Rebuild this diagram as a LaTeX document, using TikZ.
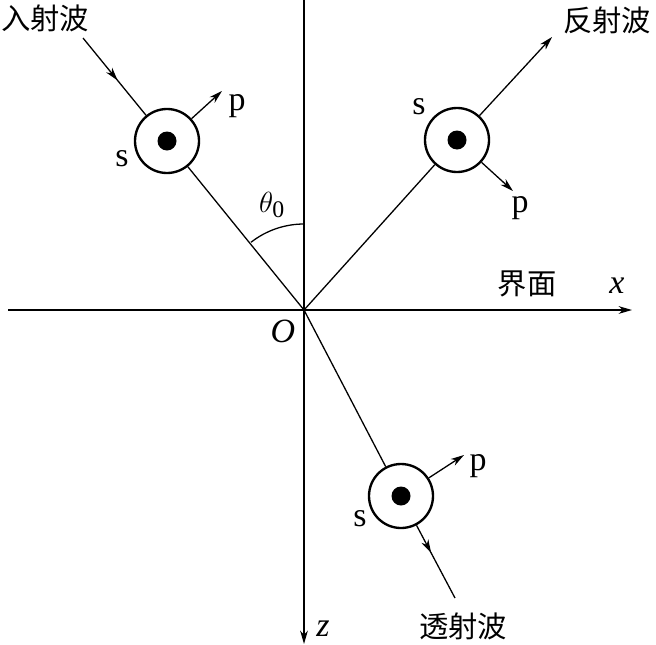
\documentclass[tikz,border=0pt]{standalone}
\usepackage{fontspec}
\setmainfont{Liberation Serif}
\newfontfamily\cjk{Noto Sans CJK SC}
\usetikzlibrary{arrows.meta,decorations.markings}

\tikzset{
  ax/.style={line width=1.1pt},
  tip/.style={-{Stealth[length=0.4cm,width=0.23cm,inset=0.12cm]}},
  wave/.style={circle,draw,line width=2pt,minimum size=1.92cm,inner sep=0pt,fill=white},
  midtip/.style={decoration={markings,mark=at position #1 with {\arrow{Stealth[length=0.4cm,width=0.23cm,inset=0.12cm]}}},postaction={decorate}},
  lbl/.style={font=\fontsize{25}{30}\selectfont,inner sep=0pt},
  sym/.style={font=\fontsize{29}{34}\selectfont,inner sep=0pt}
}

\begin{document}
\begin{tikzpicture}[x=0.03cm,y=-0.03cm]
  \useasboundingbox (0,0) rectangle (656,644);

  % axes
  \coordinate (O) at (304,310);
  \coordinate (xl) at (8,310);
  \coordinate (xr) at (632,310);
  \coordinate (zt) at (304,0);
  \coordinate (zb) at (304,644);
  \draw[ax,tip] (xl) -- (xr);
  \draw[ax,tip] (zt) -- (zb);

  % angle
  \draw[ax] (304,224) arc[start angle=-90,end angle=-128,radius=86];

  % wave nodes
  \node[wave] (inc) at (167,141) {};
  \node[wave] (ref) at (457,140) {};
  \node[wave] (tra) at (401,496) {};
  \fill (inc) circle (9.5);
  \fill (ref) circle (9.5);
  \fill (tra) circle (9.5);

  % rays
  \coordinate (incs) at (83,38);
  \coordinate (refe) at (552,37);
  \coordinate (trae) at (455,598);
  \draw[ax,midtip=0.55] (incs) -- (inc);
  \draw[ax] (inc) -- (O);
  \draw[ax] (O) -- (ref);
  \draw[ax,tip] (ref) -- (refe);
  \draw[ax] (O) -- (tra);
  \draw[ax,midtip=0.38] (tra) -- (trae);

  % p vectors
  \coordinate (incp) at (222,91);
  \coordinate (refp) at (513,191);
  \coordinate (trap) at (464,455);
  \draw[ax,tip] (inc) -- (incp);
  \draw[ax,tip] (ref) -- (refp);
  \draw[ax,tip] (tra) -- (trap);

  % labels
  \node[lbl] (tinc) at (45,18) {\cjk 入射波};
  \node[lbl] (tref) at (607,20) {\cjk 反射波};
  \node[lbl] (ttra) at (463,626) {\cjk 透射波};
  \node[lbl] (tjm) at (527,284) {\cjk 界面};
  \node[sym] (tx) at (617,286) {\textit{x}};
  \node[sym] (tz) at (323,629) {\textit{z}};
  \node[sym] (tO) at (283,331) {\textit{O}};
  \node[sym] (tth) at (272,205) {$\theta_{\mathrm{0}}$};
  \node[sym] (sinc) at (122,159) {s};
  \node[sym] (sref) at (419,107) {s};
  \node[sym] (stra) at (360,519) {s};
  \node[sym] (pinc) at (237,106) {p};
  \node[sym] (pref) at (520,208) {p};
  \node[sym] (ptra) at (478,466) {p};
\end{tikzpicture}
\end{document}
